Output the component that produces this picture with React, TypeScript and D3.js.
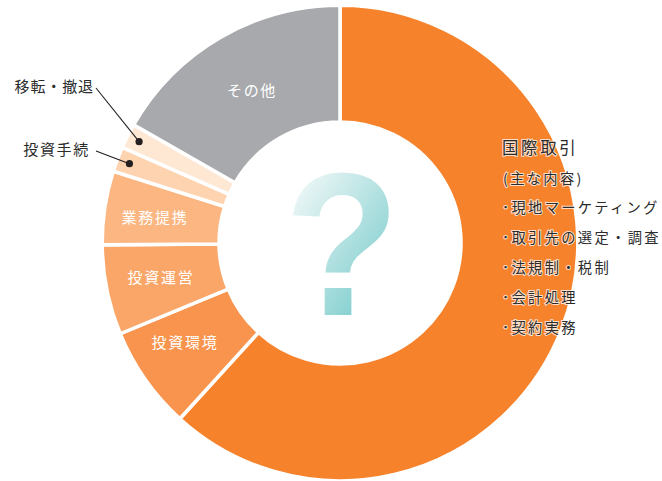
import React from 'react';
import * as d3 from 'd3';

const categories = ['国際取引', '投資環境', '投資運営', '業務提携', '投資手続', '移転・撤退', 'その他'];
const shares = [61.7, 7.0, 6.1, 5.0, 1.7, 1.7, 16.7];
const sliceColors = ['#f6822b', '#f8944d', '#faa668', '#fcb682', '#fdd3b0', '#fee7d3', '#a7a9ac'];
const detailLines = ['(主な内容)', '･現地マーケティング', '･取引先の選定・調査', '･法規制・税制', '･会計処理', '･契約実務'];

const width = 662;
const height = 481;
const cx = 340;
const cy = 243;
const outerRadius = 237.8;
const innerRadius = 121;
const font = '"Noto Sans CJK JP", "Noto Sans", sans-serif';

// label anchors relative to the donut centre
const insideLabels: Record<string, [number, number]> = {
  投資環境: [-155, 98],
  投資運営: [-179, 33.5],
  業務提携: [-185, -27],
  その他: [-88, -154],
};
const outsideLabels: Record<string, { text: [number, number]; line: [number, number]; spacing: number }> = {
  '移転・撤退': { text: [94, 85.5], line: [96, 88], spacing: 0.9 },
  投資手続: { text: [90, 148.5], line: [96, 151], spacing: 1.7 },
};

const App: React.FC = () => {
  const pie = d3.pie<number>().sort(null).value((d) => d);
  const slices = pie(shares);
  const arc = d3.arc<d3.PieArcDatum<number>>().innerRadius(innerRadius).outerRadius(outerRadius);
  const dotArc = d3.arc<d3.PieArcDatum<number>>().innerRadius(225).outerRadius(225);

  return (
    <svg
      width={width}
      height={height}
      viewBox={`0 0 ${width} ${height}`}
      style={{ position: 'absolute', left: 0, top: 0, fontFamily: font }}
    >
      <defs>
        <linearGradient id="qGrad" gradientUnits="objectBoundingBox" x1="0.15" y1="0.18" x2="0.62" y2="0.84">
          <stop offset="0" stopColor="#f1f8f8" />
          <stop offset="1" stopColor="#83cfcf" />
        </linearGradient>
      </defs>

      <g transform={`translate(${cx},${cy})`}>
        {slices.map((s, i) => (
          <path key={categories[i]} d={arc(s) || ''} fill={sliceColors[i]} stroke="#fff" strokeWidth={3.5} />
        ))}
        {categories.map((c) =>
          insideLabels[c] ? (
            <text
              key={c}
              x={insideLabels[c][0]}
              y={insideLabels[c][1]}
              fill="#fff"
              fontSize={15}
              letterSpacing={1.7}
              textAnchor="middle"
              dominantBaseline="central"
            >
              {c}
            </text>
          ) : null
        )}
      </g>

      <text
        transform="translate(342,315) scale(0.97,1.05)"
        fontFamily='"Liberation Sans", sans-serif'
        fontWeight="bold"
        fontSize={194}
        textAnchor="middle"
        fill="url(#qGrad)"
      >
        ?
      </text>

      {categories.map((c) => {
        const label = outsideLabels[c];
        if (!label) return null;
        const [dx, dy] = dotArc.centroid(slices[categories.indexOf(c)]);
        return (
          <g key={c}>
            <text
              x={label.text[0]}
              y={label.text[1]}
              fill="#2b2b2b"
              fontSize={15}
              letterSpacing={label.spacing}
              textAnchor="end"
              dominantBaseline="central"
            >
              {c}
            </text>
            <line x1={label.line[0]} y1={label.line[1]} x2={cx + dx} y2={cy + dy} stroke="#231f20" strokeWidth={1.1} />
            <circle cx={cx + dx} cy={cy + dy} r={3.6} fill="#231f20" />
          </g>
        );
      })}

      <g fill="#2b2b2b" stroke="#fff" strokeWidth={2} strokeOpacity={0.75} style={{ paintOrder: 'stroke' }}>
        <text x={502} y={147} fontSize={16.5} letterSpacing={2.6} dominantBaseline="central">
          {categories[0]}
        </text>
        {detailLines.map((t, i) => (
          <text
            key={t}
            x={i === 0 ? 503 : 502}
            y={177 + i * 29.9}
            fontSize={14.3}
            letterSpacing={2.3}
            dominantBaseline="central"
          >
            {t}
          </text>
        ))}
      </g>
    </svg>
  );
};

export default App;
